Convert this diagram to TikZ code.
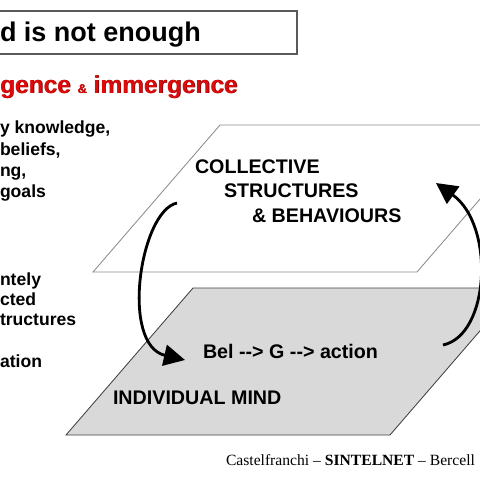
\documentclass[tikz,border=0pt]{standalone}
\usepackage{fontspec}
\setmainfont{Liberation Sans}
\newfontfamily\footfont{Liberation Serif}
\usetikzlibrary{arrows.meta, positioning}
\definecolor{emred}{RGB}{220,10,10}
\definecolor{emshadow}{RGB}{110,0,0}
\definecolor{planegray}{RGB}{217,217,217}

\begin{document}
\begin{tikzpicture}[x=0.025cm, y=-0.025cm,
  every node/.style={inner sep=0pt, outer sep=0pt},
  sidetext/.style={anchor=base west, font=\fontsize{12.5}{15}\selectfont\bfseries},
  planetext/.style={anchor=base west, font=\fontsize{14}{17}\selectfont\bfseries},
  loop/.style={line width=2pt, -{Triangle[length=15pt, width=15pt]}}]
  \useasboundingbox (0,0) rectangle (480,480);
  \clip (0,0) rectangle (480,480);

  % title and heading
  \draw[black!65, line width=0.8pt] (-10,11) rectangle (297,54);
  \node[anchor=base west, font=\fontsize{19.2}{23}\selectfont\bfseries] (title) at (0,42) {d is not enough};
  \node[anchor=base west, font=\fontsize{17.4}{21}\selectfont\bfseries, text=emshadow] at (0.7,93.7)
    {gence {\fontsize{9}{11}\selectfont\&} immergence};
  \node[anchor=base west, font=\fontsize{17.4}{21}\selectfont\bfseries, text=emred] (emerge) at (0,93)
    {gence {\fontsize{9}{11}\selectfont\&} immergence};

  % left column
  \node[sidetext] (know) at (0,133) {y knowledge,};
  \node[sidetext] (bel) at (0,155) {beliefs,};
  \node[sidetext] (ng) at (0,176) {ng,};
  \node[sidetext] (goals) at (0,197) {goals};
  \node[sidetext] (tely) at (0,285) {ntely};
  \node[sidetext] (cted) at (0,305) {cted};
  \node[sidetext] (struct) at (0,325) {tructures};
  \node[sidetext] (ation) at (0,367) {ation};

  % the two planes
  \draw[black!45, line width=0.6pt, fill=white] (93,272) -- (220,125) -- (544,125) -- (417,272) -- cycle;
  \draw[black!75, line width=0.6pt, fill=planegray] (66,435) -- (193,288) -- (517,288) -- (390,435) -- cycle;

  \node[planetext] (coll) at (195,173) {COLLECTIVE};
  \node[planetext] (struc) at (224,197) {STRUCTURES};
  \node[planetext] (behav) at (252,222) {\& BEHAVIOURS};
  \node[planetext] (bga) at (203,358) {Bel -{}-{}> G -{}-{}> action};
  \node[planetext] (mind) at (113,404) {INDIVIDUAL MIND};

  % loops between the levels
  \coordinate (downstart) at (177,203);
  \coordinate (downend) at (185,360);
  \coordinate (upstart) at (443,345);
  \coordinate (upend) at (436,183);
  \draw[loop] (downstart) .. controls (140,211) and (120,345) .. (downend);
  \draw[loop] (upstart) .. controls (490,335) and (495,225) .. (upend);

  \node[anchor=base west, font=\footfont\fontsize{11.1}{13}\selectfont] (foot) at (226,465)
    {Castelfranchi – \textbf{SINTELNET} – Bercell};
\end{tikzpicture}
\end{document}
